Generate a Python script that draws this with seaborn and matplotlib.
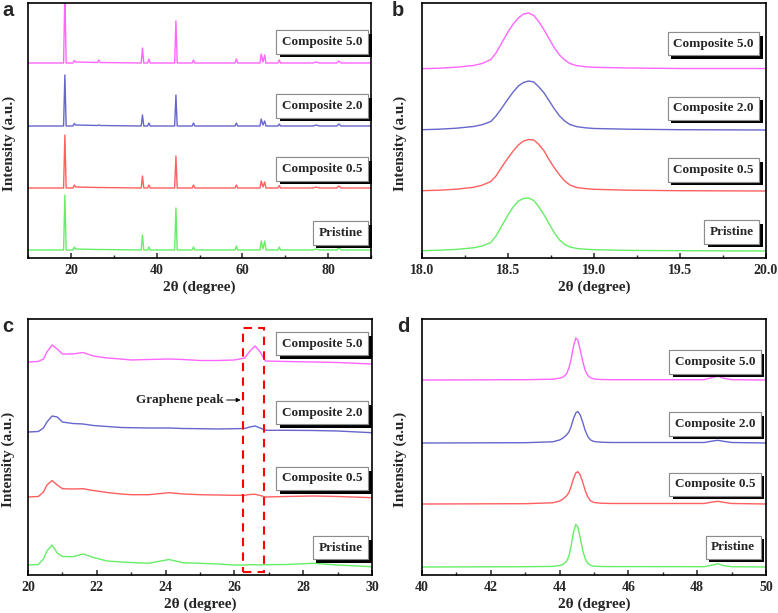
import matplotlib
matplotlib.use("Agg")
import matplotlib.pyplot as plt
import matplotlib.patheffects as pe
from matplotlib.patches import Rectangle
from matplotlib.ticker import MultipleLocator, FormatStrFormatter
import pandas as pd
import seaborn as sns

# ─── Data (intensities, arbitrary units) ─────────────────────────────────────
samples = ["Pristine", "Composite 0.5", "Composite 2.0", "Composite 5.0"]
colors  = ["#66EE66", "#FF5F5F", "#6666CC", "#FF66FF"]

# panel a : full pattern 10-90
x_a = [10, 18.3, 18.6, 18.9, 20.5, 20.8, 21.1, 26.2, 26.5, 26.8, 36.4, 36.7, 37.0,
       37.9, 38.2, 38.5, 44.2, 44.5, 44.8, 48.3, 48.6, 48.9, 58.3, 58.6, 58.9,
       64.1, 64.4, 64.8, 65.2, 65.5, 68.3, 68.6, 68.9, 76.5, 77.2, 78.0,
       82.0, 82.5, 83.0, 90]
pristine_a = [0, 0, 55, 0, 0, 3, 1, 0.5, 0.5, 0.5, 0, 15, 0, 0, 3, 0, 0, 42, 0,
              0, 3, 0, 0, 4, 0, 0, 9, 1, 9, 0, 0, 3, 0, 0, 1, 0, 0, 2.5, 0, 0]
comp05_a   = [0, 0, 53, 0, 0, 3, 1, 0.5, 0.5, 0.5, 0, 12, 0, 0, 3, 0, 0, 32, 0,
              0, 3, 0, 0, 3, 0, 0, 7, 1, 6, 0, 0, 2.5, 0, 0, 1, 0, 0, 2, 0, 0]
comp20_a   = [0, 0, 51, 0, 0, 2.5, 1, 0.5, 1, 0.5, 0, 11, 0, 0, 3, 0, 0, 31, 0,
              0, 3, 0, 0, 3, 0, 0, 7, 1, 5, 0, 0, 2, 0, 0, 1, 0, 0, 2, 0, 0]
comp50_a   = [0, 0, 70, 0, 0, 2.5, 1, 0.5, 3, 0.5, 0, 15, 0, 0, 4, 0, 0, 42, 0,
              0, 3, 0, 0, 4, 0, 0, 9, 1, 8, 0, 0, 3, 0, 0, 1, 0, 0, 2, 0, 0]
offsets_a  = [8, 70, 132, 195]

# panel b : peak near 18.6
x_b = [18.0, 18.1, 18.2, 18.3, 18.35, 18.4, 18.43, 18.46, 18.5, 18.53, 18.56, 18.59,
       18.62, 18.65, 18.68, 18.71, 18.74, 18.77, 18.8, 18.83, 18.86, 18.9, 18.95,
       19.0, 19.2, 19.5, 20.0]
pristine_b = [0.3, 0.8, 1.6, 3.2, 5, 8.5, 15, 24, 36, 44, 50, 52.5, 53, 50.5, 44, 36,
              27, 18, 11, 6.5, 4, 2.5, 1.8, 1.3, 0.6, 0.3, 0]
comp05_b   = [0.3, 0.8, 1.8, 3.7, 5.8, 9.5, 15, 23, 33, 40, 46, 50, 51.5, 51, 46.5, 40,
              31, 23, 16, 10, 6, 3.5, 2.4, 1.7, 0.8, 0.3, 0]
comp20_b   = [0.3, 0.8, 1.8, 3.5, 5.3, 8.5, 14, 21, 31, 38, 44, 47.5, 49, 48, 43, 37,
              29, 21, 14, 9, 5.5, 3.3, 2.2, 1.5, 0.8, 0.3, 0]
comp50_b   = [0.3, 0.8, 1.8, 3.5, 5.5, 9.5, 16, 25, 37, 45, 51, 55, 56, 53.5, 47, 39,
              30, 21, 14, 9, 5.5, 3.3, 2.3, 1.7, 1, 0.5, 0.5]
offsets_b  = [7, 67, 128, 189]

# panel c : 20-30 with graphene peak
x_c = [20.0, 20.3, 20.45, 20.55, 20.7, 20.85, 21.0, 21.3, 21.6, 21.9, 22.3, 22.7,
       23.0, 23.5, 24.1, 24.5, 25.0, 25.5, 26.0, 26.3, 26.45, 26.6, 26.75, 26.9,
       27.5, 28.3, 29.0, 30.0]
pristine_c = [0, 0.5, 6, 14, 20, 12, 8.5, 8.3, 11, 7.5, 4, 3, 2.5, 1.7, 5.5, 2.3,
              1.7, 1, 0, 0, 0.3, 0.3, 0, 0.3, 0.5, 1.7, 0, -1.7]
comp05_c   = [0, 0.5, 5, 12, 16.5, 12, 8.3, 8, 8.3, 6.5, 4.5, 3, 2.3, 2.3, 4.3, 3,
              2.3, 2, 1.7, 1.7, 2.5, 2.7, 1.5, 0, 0.5, 1, 0.5, -0.7]
comp20_c   = [0, 0.5, 4, 10, 16, 15, 10, 8.5, 8, 6.5, 5.5, 4.5, 4.3, 4, 4, 3.5,
              3.3, 3, 3.3, 3.5, 5, 6, 4, 1.7, 1.7, 1.5, 1, -0.7]
comp50_c   = [0, 0.5, 3, 10, 17, 13, 8, 8, 9.5, 6, 4, 3, 2, 2.5, 3, 2.5,
              1.5, 1.5, 2, 4, 11, 16, 10, 1, 0.5, 0, -0.5, -2]
offsets_c  = [10, 78, 143, 213]

# panel d : peak near 44.5
x_d = [40.0, 43.0, 43.8, 44.0, 44.1, 44.2, 44.27, 44.33, 44.4, 44.47, 44.53, 44.6,
       44.67, 44.74, 44.82, 44.9, 45.0, 45.2, 45.5, 46.5, 48.2, 48.45, 48.6, 48.75,
       49.0, 50.0]
pristine_d = [0, 0.3, 0.6, 1.5, 2.5, 5.5, 11, 20, 34, 42.7, 40, 29, 17, 8.5, 3.5, 1.8,
              0.8, 0.5, 0.4, 0.4, 0.3, 2, 3.3, 1.5, 0.3, 0]
comp05_d   = [0, 0.3, 1.2, 3, 5, 8, 11.5, 17, 25, 31, 32.3, 29, 22, 14, 7, 3.2,
              1.5, 0.8, 0.5, 0.5, 0.5, 2, 2.7, 1.8, 0.5, 0]
comp20_d   = [0, 0.3, 1.2, 3, 5, 8, 11, 16, 24, 30, 31.5, 28, 21, 13, 6.5, 3,
              1.5, 0.8, 0.5, 0.5, 0.5, 2, 2.7, 1.8, 0.5, 0]
comp50_d   = [0, 0.3, 0.8, 1.8, 3, 6, 12, 20, 33, 42, 40, 30, 19, 10, 4.5, 2.2,
              1, 0.5, 0.3, 0.3, 0.3, 2.5, 4, 2, 0.3, 0]
offsets_d  = [8, 71, 132, 195]

ticks_a = [20, 40, 60, 80]
ticks_b = [18.0, 18.5, 19.0, 19.5, 20.0]
ticks_c = [20, 22, 24, 26, 28, 30]
ticks_d = [40, 42, 44, 46, 48, 50]

# ─── Style ───────────────────────────────────────────────────────────────────
sns.set_style("ticks")
plt.rcParams["font.family"] = ["Liberation Serif", "DejaVu Serif"]
plt.rcParams["font.weight"] = "bold"
plt.rcParams["axes.labelweight"] = "bold"
plt.rcParams["axes.linewidth"] = 1.2

fig = plt.figure(figsize=(7.78, 6.13), dpi=100)

W, H = 778, 613
def rect(l, t, r, b):
    return [l / W, 1 - b / H, (r - l) / W, (b - t) / H]

ax_a = fig.add_axes(rect(28, 3, 371, 258))
ax_b = fig.add_axes(rect(422, 3, 766, 258))
ax_c = fig.add_axes(rect(28, 319, 372, 575))
ax_d = fig.add_axes(rect(422, 319, 766, 575))

panels = [
    (ax_a, x_a, [pristine_a, comp05_a, comp20_a, comp50_a], offsets_a, (10, 90), 255, ticks_a, 10, None,
     [0.975] * 4, [0.098, 0.349, 0.596, 0.847], -0.035),
    (ax_b, x_b, [pristine_b, comp05_b, comp20_b, comp50_b], offsets_b, (18, 20), 255, ticks_b, 0.25, "%.1f",
     [0.964] * 4, [0.102, 0.345, 0.588, 0.841], -0.044),
    (ax_c, x_c, [pristine_c, comp05_c, comp20_c, comp50_c], offsets_c, (20, 30), 256, ticks_c, 1, None,
     [0.972] * 4, [0.107, 0.377, 0.633, 0.904], -0.038),
    (ax_d, x_d, [pristine_d, comp05_d, comp20_d, comp50_d], offsets_d, (40, 50), 256, ticks_d, 1, None,
     [0.969] * 4, [0.109, 0.355, 0.590, 0.832], -0.044),
]

for ax, xs, series, offs, xlim, ytop, ticks, minor, fmt, lx, ly, ylab_x in panels:
    rows = []
    for name, ys, off in zip(samples, series, offs):
        for xv, yv in zip(xs, ys):
            rows.append({"x": xv, "y": yv + off, "sample": name})
    df = pd.DataFrame(rows)
    sns.lineplot(data=df, x="x", y="y", hue="sample", palette=colors, hue_order=samples,
                 estimator=None, sort=False, legend=False, linewidth=1.0, ax=ax)

    ax.set_xlim(*xlim)
    ax.set_ylim(0, ytop)
    ax.set_yticks([])
    ax.set_xticks(ticks)
    ax.xaxis.set_minor_locator(MultipleLocator(minor))
    if fmt:
        ax.xaxis.set_major_formatter(FormatStrFormatter(fmt))
    ax.tick_params(axis="x", which="major", direction="in", length=3.6, width=1.1,
                   labelsize=10, pad=4, top=False)
    ax.tick_params(axis="x", which="minor", direction="in", length=2.2, width=1.0, top=False)
    for lab in ax.get_xticklabels():
        lab.set_fontweight("bold")
    for sp in ax.spines.values():
        sp.set_visible(True)
        sp.set_linewidth(1.2)
        sp.set_color("black")

    ax.set_xlabel("2θ (degree)", fontsize=11, labelpad=2.5)
    ax.set_ylabel("Intensity (a.u.)", fontsize=11)
    ax.yaxis.set_label_coords(ylab_x, 0.45)

    # sample tags: white boxes with black drop shadow
    for name, tx, ty in zip(samples, lx, ly):
        t = ax.text(tx, ty, name, transform=ax.transAxes, ha="right", va="center",
                    fontsize=9.5, fontweight="bold", zorder=5,
                    bbox=dict(boxstyle="square,pad=0.42", fc="white", ec="0.55", lw=0.8))
        t.get_bbox_patch().set_path_effects([
            pe.withSimplePatchShadow(offset=(2.6, -2.6), shadow_rgbFace="black", alpha=1.0),
            pe.Normal()])

# graphene peak marker in panel c
ax_c.add_patch(Rectangle((26.25, 3), 0.61, 244, fill=False, ec="red", lw=1.5,
                         ls=(0, (4, 3)), zorder=4))
ax_c.annotate("Graphene peak", xy=(26.18, 175), xytext=(25.68, 175),
              ha="right", va="center", fontsize=9.5, fontweight="bold",
              arrowprops=dict(arrowstyle="-|>", color="black", lw=0.7,
                              mutation_scale=6, shrinkA=0, shrinkB=0))

# panel letters
for letter, px, py in [("a", 2, 16), ("b", 392, 16), ("c", 2, 332), ("d", 397, 332)]:
    fig.text(px / W, 1 - py / H, letter, fontsize=14.5, fontweight="bold",
             family=["Liberation Sans", "DejaVu Sans"], va="baseline", ha="left")

fig.savefig("out.png", dpi=100)
plt.close(fig)
